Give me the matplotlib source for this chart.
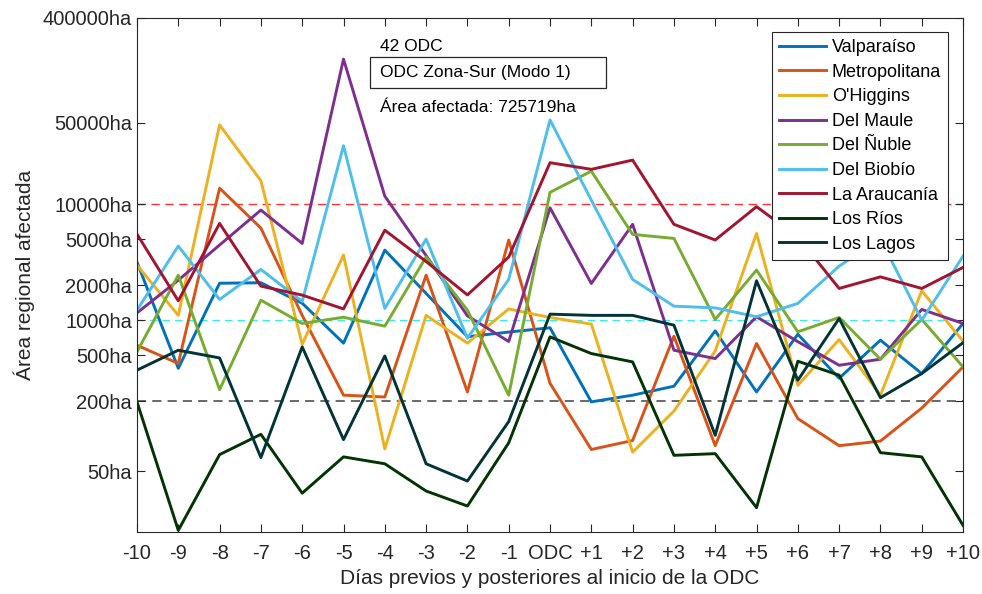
import matplotlib
matplotlib.use('Agg')
import matplotlib.pyplot as plt
from matplotlib.patches import Rectangle
import numpy as np

plt.rcParams['font.family'] = ['Liberation Sans', 'DejaVu Sans']

dias = np.arange(-10, 11)
xlabels = ['-10', '-9', '-8', '-7', '-6', '-5', '-4', '-3', '-2', '-1', 'ODC',
           '+1', '+2', '+3', '+4', '+5', '+6', '+7', '+8', '+9', '+10']

valparaiso = [3160, 385, 2080, 2100, 1400, 634, 4010, 1700, 720, 790, 860,
              198, 226, 270, 809, 241, 757, 316, 673, 347, 937]
metropolitana = [608, 424, 13700, 6210, 1100, 226, 218, 2440, 241, 4900, 286,
                 77, 92, 728, 83, 630, 142, 83, 91, 175, 396]
ohiggins = [2980, 1100, 48000, 15880, 620, 3640, 78, 1100, 634, 1250, 1055,
            925, 73, 165, 544, 5580, 275, 681, 226, 1790, 659]
maule = [1155, 2210, 4440, 8870, 4580, 177000, 11700, 3600, 1090, 655, 9290,
         2070, 6690, 551, 467, 1070, 653, 409, 461, 1237, 937]
nuble = [534, 2440, 252, 1486, 937, 1060, 888, 3500, 1220, 226, 12600,
         19200, 5480, 5060, 1014, 2700, 794, 1055, 461, 1014, 396]
biobio = [1220, 4350, 1507, 2735, 1450, 31800, 1262, 4990, 700, 2244, 53000,
          10800, 2244, 1320, 1276, 1070, 1394, 2920, 5000, 1000, 3560]
araucania = [5510, 1468, 6810, 1964, 1644, 1250, 5950, 3200, 1650, 3500, 22700,
             19900, 23900, 6690, 4900, 9490, 5200, 1876, 2360, 1876, 2845]
los_rios = [198, 15.5, 69.6, 104, 32.4, 66.5, 58, 33.8, 25.1, 87.9, 718,
            516, 437, 68.6, 70.9, 24.3, 443, 336, 72.3, 66.5, 17.1]
los_lagos = [371, 551, 473, 65.6, 589, 93.6, 492, 58, 41.2, 134, 1127,
             1100, 1100, 906, 102, 2185, 304, 1033, 215, 347, 640]

series = [('Valparaíso', valparaiso, '#0072BD'),
          ('Metropolitana', metropolitana, '#D95319'),
          ("O'Higgins", ohiggins, '#EDB120'),
          ('Del Maule', maule, '#7E2F8E'),
          ('Del Ñuble', nuble, '#77AC30'),
          ('Del Biobío', biobio, '#4DBEEE'),
          ('La Araucanía', araucania, '#A2142F'),
          ('Los Ríos', los_rios, '#023302'),
          ('Los Lagos', los_lagos, '#023436')]

yticks = [50, 200, 500, 1000, 2000, 5000, 10000, 50000, 400000]

fig = plt.figure(figsize=(9.82, 5.94), dpi=100)
ax = fig.add_axes([0.1395, 0.1044, 0.8412, 0.8653])

ax.axhline(10000, color='#FF3333', lw=1.0, ls=(0, (6, 4)), zorder=1)
ax.axhline(1000, color='#33EEEE', lw=0.9, ls=(0, (6, 4)), zorder=1)
ax.axhline(200, color='#404040', lw=1.1, ls=(0, (6, 4)), zorder=1)

for name, vals, col in series:
    ax.plot(dias, vals, color=col, lw=2.1, label=name, zorder=2)

ax.set_yscale('log')
ax.set_ylim(15, 400000)
ax.set_xlim(-10, 10)
ax.set_yticks(yticks)
ax.set_yticklabels([f'{v}ha' for v in yticks])
ax.minorticks_off()
ax.set_xticks(dias)
ax.set_xticklabels(xlabels)

ax.tick_params(axis='both', direction='in', length=6, width=0.8,
               colors='#262626', labelsize=14.5, top=True, right=True)
ax.tick_params(axis='x', pad=9)
for s in ax.spines.values():
    s.set_color('#262626')
    s.set_linewidth(0.8)

ax.set_xlabel('Días previos y posteriores al inicio de la ODC', fontsize=15,
              color='#262626', labelpad=4)
ax.set_ylabel('Área regional afectada', fontsize=15, color='#262626', labelpad=6)

ax.text(0.294, 0.9455, '42 ODC', transform=ax.transAxes, fontsize=12.5,
        va='center', ha='left')
ax.add_patch(Rectangle((0.282, 0.864), 0.286, 0.060, transform=ax.transAxes,
                       fill=False, edgecolor='#262626', lw=0.9, zorder=5))
ax.text(0.294, 0.894, 'ODC Zona-Sur (Modo 1)', transform=ax.transAxes,
        fontsize=12.5, va='center', ha='left')
ax.text(0.294, 0.825, 'Área afectada: 725719ha', transform=ax.transAxes,
        fontsize=12.5, va='center', ha='left')

leg = ax.legend(loc='upper right', bbox_to_anchor=(0.982, 0.973), fontsize=13,
                handlelength=2.6, labelspacing=0.42, borderaxespad=0,
                fancybox=False, framealpha=1, edgecolor='#262626',
                borderpad=0.4, handletextpad=0.3)
leg.get_frame().set_linewidth(0.8)
leg.set_zorder(6)

fig.savefig('out.png', dpi=100)
